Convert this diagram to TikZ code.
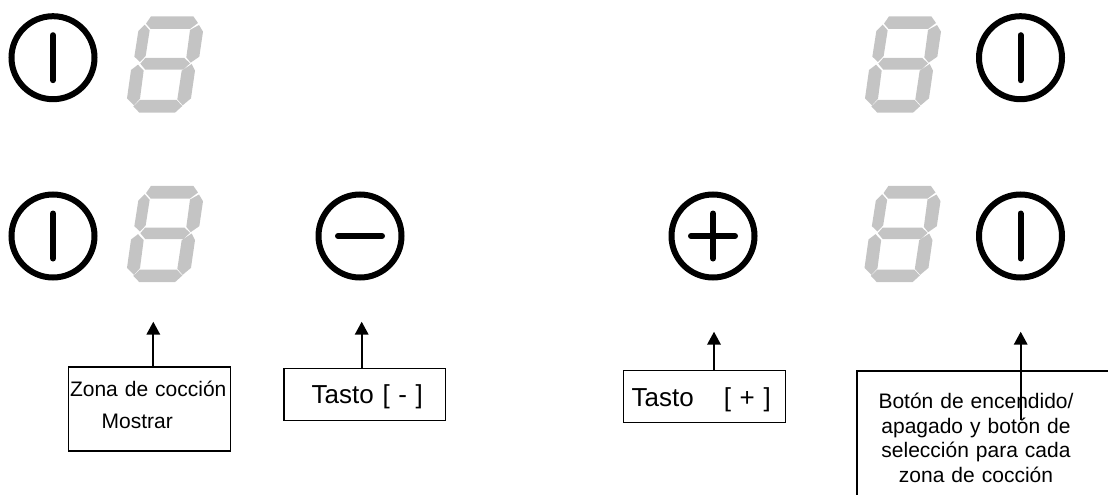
\documentclass[tikz,border=0pt]{standalone}
\usepackage{fontspec}
\setmainfont{Liberation Sans}
\usetikzlibrary{arrows.meta}
\definecolor{segrey}{RGB}{196,196,196}
\tikzset{
  dial/.style={circle,draw=black,line width=6pt,minimum size=83pt,inner sep=0pt,outer sep=0pt},
  mark line/.style={draw=black,line width=6pt,line cap=round},
  seg/.style={fill=segrey},
  labelbox/.style={draw=black,line width=1.3pt,inner sep=0pt,outer sep=0pt,anchor=north west,align=left},
  pointer/.style={draw=black,line width=2pt,-{Triangle[width=13.5pt,length=13pt]}},
  pics/digit/.style={code={
    \begin{scope}[x=0.33333pt,y=-0.33333pt]
      \path[seg] (438,71)--(453,49)--(580,49)--(594,69)--(570,87)--(452,87)--cycle;
      \path[seg] (597,75)--(609,95)--(598,170)--(572,188)--(559,172)--(570,90)--cycle;
      \path[seg] (434,74)--(449,91)--(437,168)--(420,186)--(403,170)--(415,93)--cycle;
      \path[seg] (421,191)--(436,174)--(553,174)--(570,190)--(550,209)--(436,209)--cycle;
      \path[seg] (414,194)--(431,212)--(420,296)--(402,316)--(381,295)--(393,210)--cycle;
      \path[seg] (575,192)--(585,212)--(573,295)--(548,316)--(532,298)--(545,212)--cycle;
      \path[seg] (400,319)--(420,300)--(530,300)--(547,318)--(525,338)--(418,338)--cycle;
    \end{scope}
  }}
}
\begin{document}
\begin{tikzpicture}[x=1pt,y=-1pt]
  \useasboundingbox (0,0) rectangle (1108,495);
  \clip (0,0) rectangle (1108,495);

  % dials
  \node[dial] (dtl) at (53,57.7) {};
  \node[dial] (dbl) at (53,236) {};
  \node[dial] (dmi) at (360,236) {};
  \node[dial] (dpl) at (713,236) {};
  \node[dial] (dtr) at (1020.5,57.7) {};
  \node[dial] (dbr) at (1020.5,236) {};

  \draw[mark line] (dtl.center) +(0,-22.5) -- +(0,22.5);
  \draw[mark line] (dbl.center) +(0,-22.5) -- +(0,22.5);
  \draw[mark line] (dtr.center) +(0,-22.5) -- +(0,22.5);
  \draw[mark line] (dbr.center) +(0,-22.5) -- +(0,22.5);
  \draw[mark line] (dmi.center) +(-22,0) -- +(22,0);
  \draw[mark line] (dpl.center) +(-22,0) -- +(22,0);
  \draw[mark line] (dpl.center) +(0,-22.5) -- +(0,22.5);

  % seven-segment digits
  \pic at (0,0) {digit};
  \pic at (0,169.5) {digit};
  \pic at (738,0) {digit};
  \pic at (737.5,169.5) {digit};

  % label boxes
  \node[labelbox,text width=161.6pt,minimum height=84pt,font=\fontsize{21}{32}\selectfont] (zona) at (68.7,367)
    {\hspace*{1.3pt}Zona de cocción\\\hspace*{33pt}Mostrar\\[-24pt]\mbox{}};
  \node[labelbox,text width=161.7pt,minimum height=51.6pt,font=\fontsize{26}{30}\selectfont] (menos) at (284,368.7)
    {\rule{0pt}{24pt}\hspace*{27.7pt}Tasto [ - ]};
  \node[labelbox,text width=162pt,minimum height=52pt,font=\fontsize{26}{30}\selectfont] (mas) at (623.7,370.7)
    {\rule{0pt}{24pt}\hspace*{8pt}Tasto\hspace*{30pt}[ + ]};
  \node[labelbox,text width=300pt,minimum height=134pt,font=\fontsize{21}{24.5}\selectfont] (boton) at (857,371)
    {\parbox{238pt}{\centering Botón de encendido/\\apagado y botón de\\selección para cada\\zona de cocción}};

  % connector ends
  \coordinate (tzona) at (153.3,321.7);
  \coordinate (tmenos) at (361.7,321.7);
  \coordinate (tmas) at (714,331.7);
  \coordinate (tboton) at (1020.7,331.7);
  \coordinate (sboton) at (1020.7,420);

  \draw[pointer] (zona.north -| tzona) -- (tzona);
  \draw[pointer] (menos.north -| tmenos) -- (tmenos);
  \draw[pointer] (mas.north -| tmas) -- (tmas);
  \draw[pointer] (sboton) -- (tboton);
\end{tikzpicture}
\end{document}
